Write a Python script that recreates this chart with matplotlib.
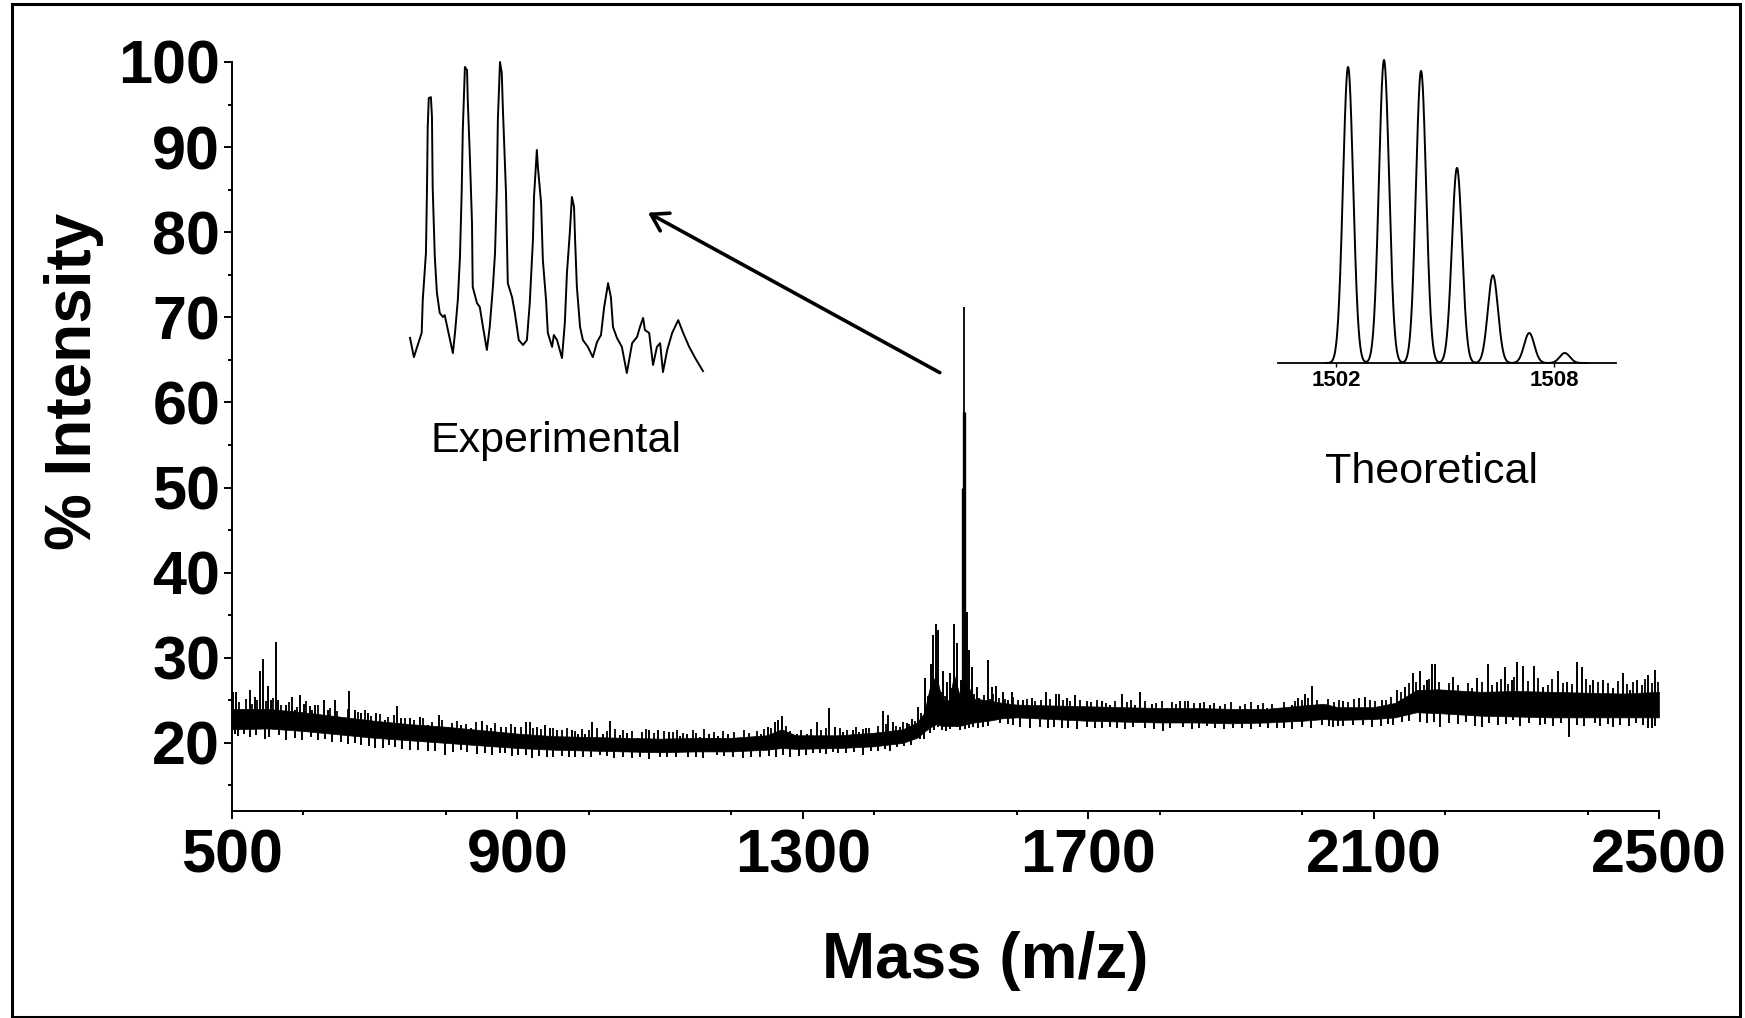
import numpy as np
import matplotlib
matplotlib.use("Agg")
import matplotlib.pyplot as plt
from matplotlib.patches import Rectangle
from matplotlib.ticker import MultipleLocator

plt.rcParams['font.family'] = ['Liberation Sans', 'DejaVu Sans']

W, H, DPI = 1745, 1018, 100

# ---------------------------------------------------------------- main spectrum
# noise band of the baseline: m/z knots with lower / upper edge (% intensity)
band_mz = [500, 550, 600, 650, 700, 750, 800, 850, 900, 950, 1000, 1050, 1100,
           1150, 1200, 1250, 1270, 1290, 1350, 1400, 1440, 1460, 1470, 1478,
           1487, 1495, 1505, 1512, 1520, 1530, 1540, 1560, 1580, 1600, 1650,
           1700, 1750, 1800, 1850, 1900, 1950, 2000, 2030, 2050, 2100, 2130,
           2160, 2190, 2250, 2300, 2350, 2400, 2450, 2500]
band_lo = [21.6, 21.7, 21.4, 21.0, 20.6, 20.3, 20.0, 19.7, 19.4, 19.2, 19.1,
           19.0, 18.9, 19.0, 19.0, 19.2, 19.4, 19.3, 19.4, 19.6, 20.0, 20.6,
           21.3, 21.8, 22.2, 22.0, 22.0, 22.0, 22.0, 22.2, 22.4, 22.6, 22.9,
           23.0, 22.8, 22.6, 22.5, 22.4, 22.4, 22.3, 22.4, 22.6, 22.8, 22.7,
           22.8, 23.0, 23.6, 23.5, 23.2, 23.1, 23.0, 23.0, 23.0, 23.0]
band_hi = [24.0, 24.0, 23.6, 23.1, 22.6, 22.2, 21.9, 21.5, 21.1, 20.8, 20.7,
           20.6, 20.5, 20.6, 20.6, 20.9, 21.6, 20.9, 20.9, 21.2, 21.6, 22.4,
           23.5, 26.5, 28.0, 25.0, 25.0, 28.0, 25.5, 27.0, 25.2, 25.0, 24.7,
           24.5, 24.4, 24.3, 24.2, 24.1, 24.1, 24.0, 24.0, 24.4, 24.6, 24.2,
           24.2, 24.7, 26.2, 26.3, 26.0, 26.1, 26.0, 25.9, 25.8, 26.0]

# tall spikes rising above the band (m/z, top)
spike_up_mz = [
    501.4, 506.1, 513.1, 524.8, 531.8, 538.8, 543.5, 550.5, 555.1, 561.2,
    564.5, 576.2, 584.6, 587.8, 594.8, 600.9, 608.9, 615.9, 628.5, 634.6,
    643.9, 650.9, 657.9, 664.0, 671.9, 681.3, 690.6, 702.3, 714.0, 723.3,
    731.7, 737.3, 749.0, 763.0, 774.7, 790.1, 802.8, 821.4, 835.5, 850.4,
    863.5, 877.5, 896.2, 911.6,
    917.6, 927.0, 938.6, 945.6, 955.0, 976.0, 985.4, 994.7, 1005.0, 1020.4,
    1029.7, 1043.8, 1053.1, 1069.5, 1084.9, 1097.5, 1112.9, 1127.9, 1137.2,
    1155.9, 1169.0, 1181.6, 1195.6, 1212.0, 1230.6, 1240.9, 1251.7, 1261.0,
    1265.7, 1270.4, 1291.4, 1305.4, 1319.4,
    1337.2, 1345.1, 1356.8, 1369.9, 1379.2, 1388.6, 1398.9, 1411.9, 1419.9,
    1426.9, 1436.2, 1445.6, 1452.6, 1461.9, 1471.3, 1479.2, 1483.0, 1486.7,
    1490.0, 1497.0, 1501.6, 1506.3, 1511.9, 1515.7, 1521.3, 1529.7, 1533.4,
    1536.7, 1543.7, 1550.7, 1559.1, 1564.7, 1570.8, 1580.1, 1588.1,
    1592.8, 1609.1, 1620.8, 1640.9, 1654.9, 1659.6, 1669.8, 1681.5, 1697.9,
    1718.9, 1730.6, 1746.9, 1765.6, 1772.6, 1789.0, 1810.0, 1828.7, 1840.4,
    1856.7, 1870.7, 1884.7, 1912.8, 1938.5, 1950.2, 1968.8, 1985.2, 1994.5,
    2003.9, 2013.2, 2029.6,
    2057.6, 2080.0, 2087.9, 2111.3, 2132.3, 2144.0, 2155.7, 2165.0, 2174.4,
    2181.4, 2186.1, 2200.1, 2211.8, 2225.8, 2244.5, 2260.8, 2272.5, 2284.2,
    2293.5, 2301.5, 2309.9, 2324.8, 2337.9, 2358.9, 2371.5, 2384.6, 2391.6,
    2408.0, 2422.0, 2436.0, 2449.1, 2459.4, 2468.7, 2485.1, 2494.4]
spike_up_top = [
    26.0, 26.0, 23.9, 26.2, 25.4, 28.4, 29.9, 26.7, 25.0, 31.9,
    25.0, 24.4, 25.4, 23.9, 25.6, 24.6, 24.3, 24.4, 25.0, 23.9,
    25.0, 23.1, 22.9, 26.1, 23.9, 23.5, 23.5, 23.5, 22.7, 22.3,
    24.3, 22.9, 22.9, 23.1, 22.1, 23.3, 21.9, 22.1, 21.7, 22.6,
    21.7, 21.9, 21.9, 22.5,
    22.4, 21.9, 22.1, 21.7, 21.5, 21.5, 21.0, 21.0, 22.4, 21.0,
    22.6, 20.9, 21.2, 20.6, 21.5, 21.5, 21.3, 20.8, 21.1,
    20.7, 21.0, 20.8, 21.1, 20.6, 20.7, 21.0, 21.9, 22.4,
    22.7, 23.2, 21.1, 21.0, 22.4,
    24.1, 21.9, 21.3, 21.5, 21.3, 21.7, 21.1, 23.7, 23.3,
    22.4, 21.9, 22.3, 22.8, 24.2, 27.6, 29.3, 32.7, 34.0,
    33.3, 28.5, 27.2, 28.2, 34.0, 31.7, 27.4, 35.4, 30.9,
    28.9, 26.6, 24.6, 29.7, 26.6, 26.7, 26.0, 25.0,
    26.0, 25.1, 25.3, 26.0, 25.8, 25.8, 25.3, 25.6, 24.9,
    24.9, 24.4, 25.8, 24.4, 26.0, 24.6, 24.1, 24.9, 24.9,
    24.7, 24.4, 24.3, 24.3, 24.4, 24.1, 24.1, 24.4, 25.3,
    25.8, 26.7, 24.3,
    24.9, 25.3, 25.4, 25.0, 26.2, 26.6, 28.2, 28.4, 27.4,
    29.3, 29.3, 26.2, 27.8, 26.0, 27.6, 29.3, 27.2, 28.9,
    27.4, 29.5, 29.0, 29.0, 26.6, 28.4, 27.2, 29.5, 28.9,
    27.4, 27.4, 26.4, 28.2, 26.2, 27.4, 28.0, 28.6]

# short spikes making up the ragged top edge of the band
fine_up_mz = [
    510, 519, 528, 535, 547, 558, 569, 580, 591, 604, 612, 621, 638, 647, 662,
    676, 686, 695, 708, 719, 727, 742, 755, 768, 780, 795, 808, 815, 828, 842,
    857, 869, 884, 891, 905,
    922, 933, 950, 962, 970, 981, 990, 1000, 1012, 1025, 1037, 1048, 1060,
    1075, 1080, 1091, 1105, 1118, 1123, 1132, 1146, 1150, 1162, 1175, 1188,
    1203, 1218, 1224, 1236, 1246, 1256, 1276, 1282, 1298, 1312,
    1326, 1332, 1352, 1362, 1375, 1384, 1393, 1405, 1416, 1431, 1441, 1449,
    1457,
    1466, 1475, 1493, 1499, 1508, 1518, 1523, 1527, 1540, 1547, 1554, 1562,
    1567, 1575, 1584, 1594,
    1602, 1614, 1626, 1634, 1647, 1664, 1675, 1688, 1704, 1712, 1725, 1738,
    1755, 1760, 1779, 1795, 1803, 1818, 1823, 1835, 1848, 1862, 1877, 1892,
    1900, 1920, 1928, 1945, 1958, 1975, 1990, 1999, 2008, 2020, 2036, 2045,
    2052, 2064, 2072, 2095, 2102, 2118, 2125, 2138, 2150, 2160, 2170, 2178,
    2192, 2205, 2218, 2232, 2238, 2252, 2266, 2279, 2288, 2297, 2316, 2330,
    2345, 2350, 2365, 2378, 2398, 2403, 2415, 2428, 2442, 2455, 2464, 2476,
    2480, 2490, 2498]
fine_up_top = [
    24.8, 25.2, 24.6, 25.0, 24.9, 25.3, 24.5, 24.8, 24.2, 24.9, 23.9, 24.5,
    24.1, 23.8, 24.0, 23.6, 23.9, 23.2, 23.4, 23.0, 23.3, 22.9, 22.7, 22.9,
    22.5, 22.7, 22.3, 22.6, 22.2, 22.4, 22.1, 22.3, 21.9, 22.2, 21.9,
    21.8, 21.6, 21.7, 21.5, 21.8, 21.4, 21.6, 21.5, 21.7, 21.4, 21.6, 21.5,
    21.4, 21.3, 21.6, 21.2, 21.4, 21.3, 21.5, 21.2, 21.5, 21.2, 21.6, 21.3,
    21.4, 21.3, 21.5, 21.2, 21.4, 21.6, 21.8, 22.0, 21.4, 21.5, 21.6,
    21.5, 21.7, 21.8, 21.5, 21.9, 21.6, 21.8, 22.0, 22.2, 22.0, 22.4, 22.2,
    22.6,
    23.5, 25.5, 26.0, 25.5, 26.5, 26.0, 27.0, 28.0, 25.8, 25.3, 25.6, 25.2,
    25.7, 25.3, 25.2, 25.4,
    25.0, 25.2, 24.9, 25.0, 25.2, 25.1, 24.9, 25.0, 24.8, 25.0, 24.7, 24.9,
    24.8, 25.0, 24.9, 24.7, 24.9, 24.8, 24.6, 24.9, 24.7, 24.8, 24.7, 24.6,
    24.8, 24.6, 24.8, 24.7, 24.6, 24.8, 24.9, 25.0, 25.3, 25.1, 25.2, 24.8,
    25.0, 24.8, 25.2, 25.0, 24.9, 25.1, 25.4, 26.0, 27.0, 27.2, 26.8, 27.5,
    27.2, 27.0, 26.8, 27.0, 26.5, 27.2, 26.8, 27.5, 26.9, 27.8, 27.3, 27.6,
    26.8, 27.5, 27.0, 26.9, 27.5, 26.8, 27.2, 27.0, 27.3, 26.9, 27.1, 26.8,
    27.5, 27.0, 27.2]

# spikes dipping below the band (m/z, bottom)
spike_dn_mz = [
    503.7, 508, 517, 524.8, 533, 545.8, 552, 566, 576.2, 588, 598, 611.2,
    620, 629.9, 640, 653.2, 662, 672, 681.3, 692, 700.0, 712, 720, 728.0,
    738, 749.0, 760, 774.7, 785, 798.1, 810, 821.4, 830, 843, 854.1, 865,
    875, 882.2, 892, 900.9,
    912, 920.0, 930, 942, 950.3, 962, 972, 980.7, 992, 1003, 1015.7, 1025,
    1035, 1048, 1060.1, 1072, 1085, 1099.8, 1110, 1122, 1139.5, 1150, 1160,
    1179.2, 1190, 1202, 1216.6, 1228, 1240.0, 1252, 1262, 1272, 1282.0, 1295,
    1305, 1314.7,
    1324.1, 1332, 1342, 1349.8, 1360, 1372, 1384.9, 1395, 1405, 1415, 1422.2,
    1432, 1442, 1452, 1464.3, 1470, 1478, 1484, 1490.0, 1495, 1500, 1507,
    1515.7, 1520, 1527, 1533, 1539.0, 1545, 1553.0, 1560, 1569.4, 1576, 1588,
    1595.1, 1605, 1618, 1632.5, 1644, 1652, 1662.8, 1672, 1685, 1697.9, 1710,
    1720, 1730.6, 1740, 1752, 1763.3, 1780, 1792, 1804.4, 1815, 1833.4, 1845,
    1855, 1866.1, 1878, 1890, 1903.4, 1915, 1928, 1940.8, 1952, 1964.2, 1975,
    1985, 2000, 2012, 2027.2, 2037,
    2043.6, 2050, 2057, 2071.6, 2085, 2098, 2110, 2120, 2127.7, 2140, 2150,
    2165, 2175, 2185, 2193.1, 2206, 2218, 2230, 2242, 2251.5, 2262, 2275,
    2285, 2295.9, 2305, 2318, 2333.2, 2340, 2352, 2362, 2374.4, 2385, 2395,
    2410, 2418, 2428, 2436.0, 2445, 2458, 2468, 2478.1, 2485, 2489.7, 2495]
spike_dn_bot = [
    21.1, 20.8, 21.0, 20.7, 20.9, 20.5, 20.7, 20.9, 20.3, 20.6, 20.4, 20.7,
    20.4, 20.5, 20.1, 20.1, 19.9, 20.0, 19.7, 19.6, 19.4, 19.4, 19.7, 19.5,
    19.3, 19.2, 19.2, 19.0, 19.1, 18.6, 18.9, 19.2, 18.9, 18.7, 18.8, 18.6,
    18.8, 18.8, 18.5, 18.6,
    18.6, 18.2, 18.5, 18.3, 18.4, 18.5, 18.3, 18.4, 18.4, 18.3, 18.6, 18.5,
    18.2, 18.4, 18.2, 18.3, 18.1, 18.4, 18.3, 18.4, 18.3, 18.3, 18.2,
    18.6, 18.5, 18.3, 18.2, 18.3, 18.4, 18.5, 18.4, 18.6, 18.4, 18.5,
    18.6, 18.8,
    18.8, 18.7, 18.9, 18.8, 18.8, 18.9, 18.6, 19.0, 19.1, 19.3, 19.0,
    19.5, 19.6, 19.8, 20.5, 20.5, 21.2, 21.5, 21.9, 21.5, 21.4, 21.6,
    21.9, 21.5, 21.6, 21.7, 21.9, 21.8, 21.9, 22.0, 22.7, 22.3, 22.2,
    22.1, 21.9, 21.8, 21.9, 21.7, 21.9, 21.7, 21.8, 21.6, 21.9, 21.7,
    21.8, 21.9, 21.7, 21.6, 21.9, 21.8, 21.6, 21.4, 21.7, 21.9, 21.6,
    21.8, 22.0, 21.7, 21.6, 21.7, 21.8, 21.6, 21.9, 21.7, 21.7, 21.8,
    21.6, 21.9, 21.8, 22.1, 22.0,
    21.9, 22.0, 22.0, 22.1, 22.1, 21.9, 22.0, 22.2, 22.1, 22.4, 22.6,
    22.5, 22.3, 22.4, 21.9, 22.3, 22.2, 22.4, 22.0, 21.9, 22.3, 22.1,
    22.2, 22.7, 22.0, 22.3, 22.1, 22.2, 22.0, 22.3, 20.7, 22.1, 22.0,
    22.3, 22.0, 22.2, 21.9, 22.1, 22.0, 22.3, 22.1, 21.8, 21.7, 22.0]

# molecular ion signal
ion_mz = [1525.1, 1525.5, 1525.9]
ion_top = [50.0, 71.2, 58.9]
ion_width = [2.4, 1.3, 2.4]

x_ticks = [500, 900, 1300, 1700, 2100, 2500]
y_ticks = [20, 30, 40, 50, 60, 70, 80, 90, 100]

# ---------------------------------------------------------------- insets
# measured isotope envelope (m/z, relative intensity)
exp_mz = [1501.74, 1501.85, 1501.93, 1502.07, 1502.10, 1502.19, 1502.22, 1502.24,
          1502.27, 1502.33, 1502.36, 1502.38, 1502.44, 1502.50, 1502.58, 1502.67,
          1502.72, 1502.81, 1502.95, 1503.01, 1503.09, 1503.15, 1503.20, 1503.23,
          1503.29, 1503.35, 1503.37, 1503.43, 1503.49, 1503.51, 1503.63, 1503.71,
          1503.80, 1503.91, 1503.99, 1504.08, 1504.14, 1504.19, 1504.22, 1504.28,
          1504.33, 1504.36, 1504.45, 1504.50, 1504.62, 1504.70, 1504.81, 1504.93,
          1505.04, 1505.12, 1505.21, 1505.24, 1505.32, 1505.35, 1505.44, 1505.49,
          1505.58, 1505.63, 1505.75, 1505.80, 1505.89, 1506.03, 1506.11, 1506.17,
          1506.25, 1506.31, 1506.37, 1506.40, 1506.45, 1506.54, 1506.62, 1506.76,
          1506.90, 1507.02, 1507.13, 1507.22, 1507.30, 1507.33, 1507.41, 1507.47,
          1507.58, 1507.72, 1507.86, 1508.01, 1508.15, 1508.23, 1508.32, 1508.37,
          1508.49, 1508.60, 1508.71, 1508.80, 1508.88, 1509.00, 1509.14, 1509.31,
          1509.45, 1509.62, 1509.79, 1510.01]
exp_int = [11.3, 5.1, 8.0, 12.9, 23.5, 38.6, 59.8, 79.1,
           88.4, 88.7, 82.3, 59.8, 37.3, 25.7, 19.3, 18.0,
           18.6, 13.8, 6.4, 12.9, 23.5, 37.3, 58.8, 78.1,
           98.4, 97.4, 87.8, 69.5, 48.2, 27.7, 22.5, 21.2,
           14.8, 7.4, 14.8, 27.7, 38.6, 58.8, 81.4, 100.0,
           96.5, 85.5, 57.9, 28.9, 24.4, 19.3, 10.6, 9.0,
           10.6, 22.5, 42.8, 56.6, 71.7, 66.2, 54.7, 36.3,
           23.5, 12.9, 8.4, 12.2, 10.6, 4.8, 16.1, 32.2,
           45.0, 56.6, 53.4, 42.8, 27.7, 14.8, 10.6, 8.4,
           5.1, 10.0, 12.2, 21.2, 26.7, 28.9, 24.4, 14.8,
           11.3, 8.4, 0.0, 9.6, 11.6, 14.8, 17.7, 13.8,
           12.9, 2.6, 8.4, 9.6, 0.3, 7.4, 12.9, 17.0,
           12.9, 8.4, 4.8, 0.6]

# calculated isotope pattern (m/z, relative abundance)
theo_mz = [1502.33, 1503.32, 1504.34, 1505.33, 1506.32, 1507.32, 1508.30]
theo_abund = [97.7, 100.0, 96.4, 64.4, 29.0, 9.9, 3.3]
theo_ticks = [1502, 1508]

# ---------------------------------------------------------------- figure
fig = plt.figure(figsize=(W / DPI, H / DPI), dpi=DPI)
fig.patch.set_facecolor('white')


def px_box(x0, y0, x1, y1):
    """Axes rectangle from pixel corners (top-left origin)."""
    return [x0 / W, 1 - y1 / H, (x1 - x0) / W, (y1 - y0) / H]


ax = fig.add_axes(px_box(232, 62, 1659, 811))
ax.set_xlim(500, 2500)
ax.set_ylim(12, 100)

bmz = np.array(band_mz, float)
blo = np.array(band_lo, float)
bhi = np.array(band_hi, float)
bmid = (blo + bhi) / 2

ax.fill_between(bmz, blo, bhi, color='black', lw=0.5, edgecolor='black')
ax.vlines(fine_up_mz, np.interp(fine_up_mz, bmz, bmid), fine_up_top,
          color='black', lw=1.3)
ax.vlines(spike_up_mz, np.interp(spike_up_mz, bmz, bmid), spike_up_top,
          color='black', lw=1.4)
ax.vlines(spike_dn_mz, spike_dn_bot, np.interp(spike_dn_mz, bmz, bmid),
          color='black', lw=1.4)
for m, t, w in zip(ion_mz, ion_top, ion_width):
    ax.vlines(m, np.interp(m, bmz, bmid), t, color='black', lw=w)
# trailing edge of the trace
ax.vlines(band_mz[-1], band_lo[-1], band_hi[-1], color='black', lw=1.4)

for s in ('top', 'right'):
    ax.spines[s].set_visible(False)
for s in ('left', 'bottom'):
    ax.spines[s].set_linewidth(1.4)

ax.set_xticks(x_ticks)
ax.set_yticks(y_ticks)
ax.xaxis.set_minor_locator(MultipleLocator(200))
ax.yaxis.set_minor_locator(MultipleLocator(5))
ax.tick_params(which='major', direction='out', length=5.5, width=1.4,
               labelsize=44)
ax.tick_params(which='minor', direction='out', length=3.2, width=1.4)
ax.tick_params(axis='x', which='major', pad=7)
ax.tick_params(axis='y', which='major', pad=3)
for lab in ax.get_xticklabels() + ax.get_yticklabels():
    lab.set_fontweight('bold')

fig.text(985 / W, 1 - 978 / H, 'Mass (m/z)', ha='center', va='baseline',
         fontsize=46, fontweight='bold')
fig.text(74 / W, 1 - 381 / H, '% Intensity', ha='center', va='center',
         rotation=90, fontsize=46, fontweight='bold')

ax.annotate('', xy=(1083, 82.3), xytext=(1492, 63.5),
            arrowprops=dict(arrowstyle='->,head_length=0.4,head_width=0.25',
                            lw=2.6, color='black', mutation_scale=29,
                            shrinkA=0, shrinkB=0))

# experimental isotope envelope
ax_e = fig.add_axes(px_box(410, 62, 703, 373))
ax_e.plot(exp_mz, exp_int, color='black', lw=1.4, clip_on=False)
ax_e.set_xlim(min(exp_mz), max(exp_mz))
ax_e.set_ylim(0, 100)
ax_e.axis('off')
fig.text(556 / W, 1 - 452 / H, 'Experimental', ha='center', va='baseline',
         fontsize=31)

# theoretical isotope pattern, broadened sticks
ax_t = fig.add_axes(px_box(1278, 60, 1616, 363))
xt = np.linspace(1501.7, 1508.9, 2000)
yt = np.zeros_like(xt)
for c, h in zip(theo_mz, theo_abund):
    yt += h * np.exp(-0.5 * ((xt - c) / 0.14) ** 2)
ax_t.plot(xt, yt, color='black', lw=1.4, clip_on=False)
ax_t.set_xlim(1500.40, 1509.71)
ax_t.set_ylim(0, 100)
for s in ('top', 'right', 'left'):
    ax_t.spines[s].set_visible(False)
ax_t.spines['bottom'].set_linewidth(1.3)
ax_t.set_yticks([])
ax_t.set_xticks(theo_ticks)
ax_t.tick_params(axis='x', direction='out', length=3, width=1.0,
                 labelsize=16, pad=2)
for lab in ax_t.get_xticklabels():
    lab.set_fontweight('bold')
ax_t.patch.set_alpha(0)
fig.text(1431 / W, 1 - 483 / H, 'Theoretical', ha='center', va='baseline',
         fontsize=31)

# outer frame
fig.patches.append(Rectangle((11.5 / W, 1 - 1016.5 / H), (1740 - 11.5) / W,
                             (1016.5 - 3.5) / H, transform=fig.transFigure,
                             fill=False, edgecolor='black', lw=2.2))

fig.savefig('out.png', dpi=DPI)
